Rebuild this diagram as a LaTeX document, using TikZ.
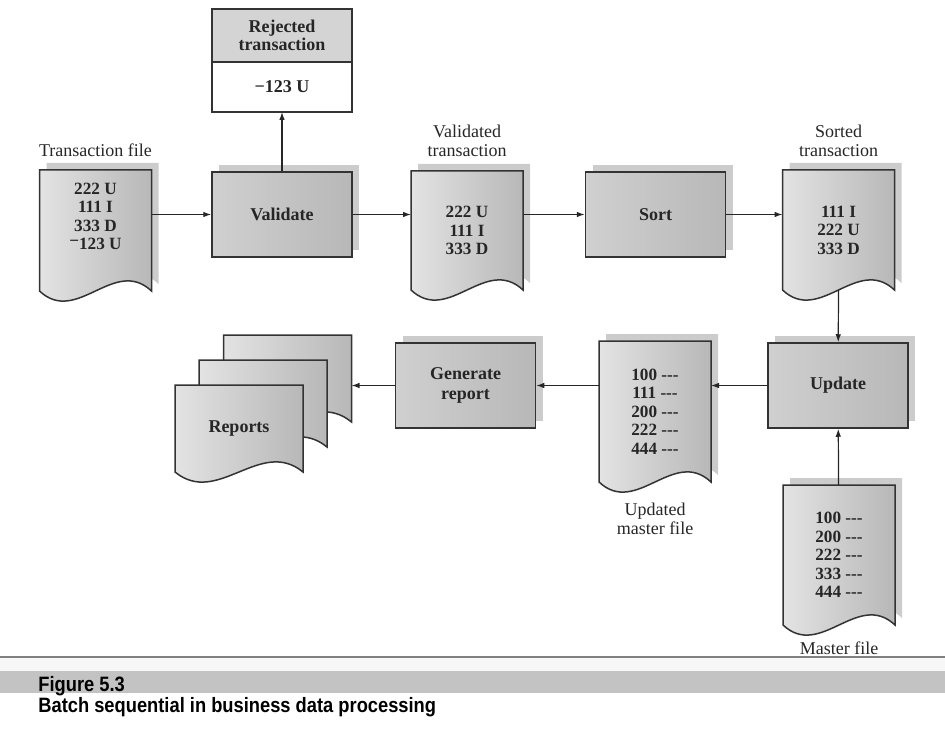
\documentclass[tikz,border=0pt]{standalone}
\usepackage{fontspec}
\usepackage{tikz}
\setmainfont{Liberation Serif}
\newfontfamily\capfont[FakeStretch=0.88]{Liberation Sans}
\usetikzlibrary{arrows.meta,backgrounds,calc,positioning,shadows}
\newcommand{\dashes}{-\kern0pt-\kern0pt-}
\newcommand{\docshape}[2]{\path[#1] (#2.north west) -- (#2.north east) -- (#2.south east)
  .. controls ($(#2.south west)!0.667!(#2.south east)+(0,17.5pt)$) and ($(#2.south west)!0.333!(#2.south east)+(0,-17.5pt)$) .. (#2.south west) -- cycle;}

\begin{document}
\begin{tikzpicture}[x=0.5pt,y=-0.5pt,>={Latex[length=4pt,width=2.8pt]},
  box/.style={draw=black!80,line width=0.75pt,minimum width=70pt,minimum height=42.5pt,
    left color=gray!37,middle color=gray!18,right color=gray!56,
    drop shadow={shadow xshift=3.5pt,shadow yshift=3.5pt,fill=gray!40,opacity=1},
    font=\fontsize{9}{10}\selectfont\bfseries,align=center,text=black!85},
  rjbox/.style={draw=black!80,line width=0.75pt,minimum width=70pt,outer sep=0pt,
    font=\fontsize{9}{9}\selectfont\bfseries,align=center,text=black!85},
  doc/.style={minimum width=56pt,inner sep=0pt,outer sep=0pt,align=center,
    font=\fontsize{8.6}{9.25}\selectfont\bfseries,text=black!85},
  docfill/.style={draw=black!80,line width=0.75pt,left color=gray!22,right color=gray!56},
  docshadow/.style={fill=gray!40,transform canvas={shift={(3.5pt,3.5pt)}}},
  lbl/.style={align=center,inner sep=0pt,font=\fontsize{9}{9.5}\selectfont,text=black!85},
  captext/.style={inner sep=0pt,font=\capfont\bfseries\fontsize{10.4}{11}\selectfont},
  flow/.style={->,line width=0.6pt,black!85}]
\useasboundingbox (0,0) rectangle (945,732);
\node[rjbox,fill=gray!34,minimum height=26.5pt] (rjh) at (282,35.5) {Rejected\\transaction};
\node[rjbox,fill=white,minimum height=25pt,below=0pt of rjh] (rj) {−123 U};
\node[box] (va) at (282,214.5) {Validate};
\node[box] (so) at (655.5,214.5) {Sort};
\node[box] (up) at (838,385.5) {Update};
\node[box] (gr) at (465.5,385.5) {Generate\\report};
\node[doc,minimum height=60.5pt] (tf) at (95.5,230.5) {222 U\\111 I\\333 D\\\raisebox{.35ex}{−}123 U\\[5pt]};
\node[doc,minimum height=59.5pt] (vt) at (467,230.5) {222 U\\111 I\\333 D};
\node[doc,minimum height=60pt] (st) at (838.5,230) {111 I\\222 U\\333 D};
\node[doc,minimum height=70.5pt] (um) at (655,411.5) {100 \dashes\\111 \dashes\\200 \dashes\\222 \dashes\\444 \dashes};
\node[doc,minimum height=70pt] (mf) at (839,555) {100 \dashes\\200 \dashes\\222 \dashes\\333 \dashes\\444 \dashes};
\node[doc,minimum width=64pt,minimum height=43.5pt] (rp1) at (287.5,378.5) {};
\node[doc,minimum width=64pt,minimum height=43.5pt] (rp2) at (263,403.5) {};
\node[doc,minimum width=64pt,minimum height=43.5pt,font=\fontsize{9}{10}\selectfont\bfseries] (rp3) at (239,428.5) {Reports};
\node[lbl,above=6.5pt of tf] (tfl) {Transaction file};
\node[lbl,above=7pt of vt] (vtl) {Validated\\transaction};
\node[lbl,above=6.5pt of st] (stl) {Sorted\\transaction};
\node[lbl,below=10.5pt of um] (uml) {Updated\\master file};
\node[lbl,below=8pt of mf] (mfl) {Master file};
\begin{scope}[on background layer]
\docshape{docshadow}{tf} \docshape{docfill}{tf}
\docshape{docshadow}{vt} \docshape{docfill}{vt}
\docshape{docshadow}{st} \docshape{docfill}{st}
\docshape{docshadow}{um} \docshape{docfill}{um}
\docshape{docshadow}{mf} \docshape{docfill}{mf}
\docshape{docfill}{rp1}
\docshape{docfill}{rp2}
\docshape{docfill}{rp3}
\end{scope}
\draw[flow] (tf.east |- va) -- (va);
\draw[flow] (va) -- (rj);
\draw[flow] (va) -- (vt.west |- va);
\draw[flow] (vt.east |- so) -- (so);
\draw[flow] (so) -- (st.west |- so);
\draw[flow] (st.south) -- (up);
\draw[flow] (mf) -- (up);
\draw[flow] (up) -- (um.east |- up);
\draw[flow] (um.west |- gr) -- (gr);
\draw[flow] (gr) -- (rp1.east |- gr);
\fill[gray!6] (0,658) rectangle (945,671);
\fill[gray!47] (0,671) rectangle (945,693);
\draw[gray,line width=1pt] (0,657) -- (945,657);
\node[captext,anchor=base west] (fig) at (38,691) {Figure 5.3};
\node[captext,anchor=base west] (cpt) at (38,712) {Batch sequential in business data processing};
\end{tikzpicture}
\end{document}
